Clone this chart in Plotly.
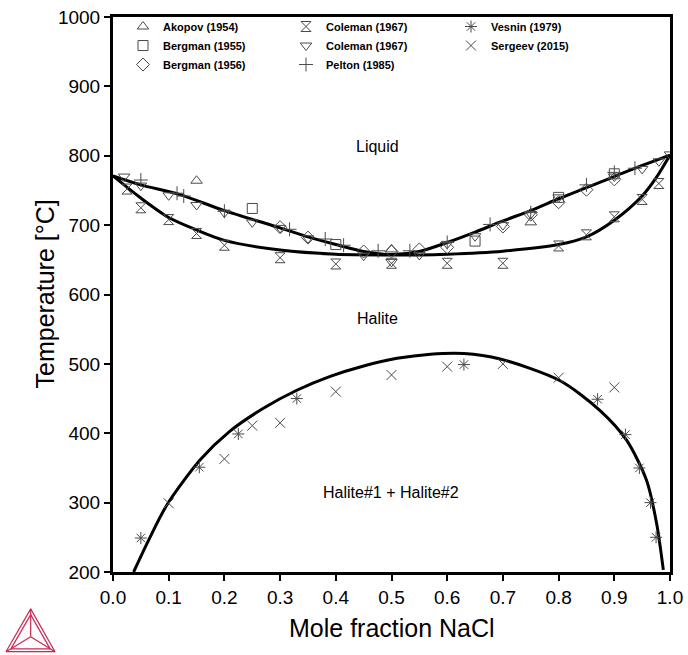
import plotly.graph_objects as go

# --- Phase boundary lines (mole fraction NaCl, temperature in °C) ---
liq_x = [0.0, 0.05, 0.12, 0.2, 0.3, 0.35, 0.4, 0.45, 0.5, 0.55, 0.6, 0.65, 0.7, 0.75, 0.8, 0.85, 0.9, 0.95, 1.0]
liq_t = [771, 758, 744, 721, 696, 683, 672, 662, 657.5, 662, 675, 690, 706, 721, 738, 754, 770, 786, 801]

sol_x = [0.0, 0.05, 0.1, 0.15, 0.2, 0.3, 0.4, 0.5, 0.55, 0.6, 0.7, 0.8, 0.85, 0.9, 0.95, 0.975, 1.0]
sol_t = [771, 739, 711, 693, 678, 664, 658, 657, 657, 658, 662.5, 672, 683, 707, 742, 768, 801]

gap_x = [0.037, 0.064, 0.097, 0.157, 0.21, 0.27, 0.33, 0.39, 0.45, 0.51, 0.57, 0.63, 0.695, 0.802, 0.874, 0.922, 0.958, 0.976, 0.988]
gap_t = [200, 246, 297, 362, 403, 436, 462, 482, 497, 508, 514, 515, 507, 476, 433, 390, 332, 270, 203]

# --- Experimental data ---
akopov_x = [0.15, 0.5, 0.75]
akopov_t = [764, 665, 704]

bergman55_x = [0.25, 0.4, 0.65, 0.8, 0.9]
bergman55_t = [724, 672, 677, 740, 774]

bergman56_x = [0.3, 0.35, 0.45, 0.5, 0.55, 0.6, 0.7, 0.75, 0.8, 0.85, 0.9]
bergman56_t = [697, 682, 662, 662, 665, 668, 698, 715, 733, 751, 766]

coleman_sol_x = [0.025, 0.05, 0.1, 0.15, 0.2, 0.3, 0.4, 0.5, 0.6, 0.7, 0.8, 0.85, 0.9, 0.95, 0.98]
coleman_sol_t = [752, 725, 708, 688, 671, 653, 644, 645, 645, 645, 670, 686, 712, 737, 760]

coleman_liq_x = [0.02, 0.05, 0.1, 0.15, 0.2, 0.25, 0.3, 0.35, 0.45, 0.5, 0.55, 0.6, 0.65, 0.7, 0.75, 0.8, 0.9, 0.95, 0.98, 1.0]
coleman_liq_t = [770, 757, 743, 729, 718, 704, 696, 681, 656, 647, 657, 673, 684, 700, 716, 740, 770, 781, 792, 802]

pelton_x = [0.05, 0.115, 0.127, 0.2, 0.317, 0.381, 0.414, 0.476, 0.533, 0.6, 0.677, 0.75, 0.85, 0.9, 0.937]
pelton_t = [765, 746, 742, 720, 694, 680, 671, 663, 663, 675, 701, 718, 758, 776, 782]

vesnin_x = [0.05, 0.155, 0.225, 0.33, 0.63, 0.87, 0.92, 0.945, 0.965, 0.975]
vesnin_t = [249, 351, 399, 450, 499, 449, 398, 350, 300, 250]

sergeev_x = [0.1, 0.2, 0.25, 0.3, 0.4, 0.5, 0.6, 0.7, 0.8, 0.9]
sergeev_t = [299, 363, 411, 415, 460, 484, 496, 500, 480, 466]

x_ticks = [0.0, 0.1, 0.2, 0.3, 0.4, 0.5, 0.6, 0.7, 0.8, 0.9, 1.0]
y_ticks = [200, 300, 400, 500, 600, 700, 800, 900, 1000]

FONT = "Arial, Liberation Sans, sans-serif"
MARK = "#4a4a4a"

# page geometry (pixels)
W, H = 688, 655
ML, MR, MT, MB = 113, 18, 15, 83
PW, PH = W - ML - MR, H - MT - MB


def px(xp):
    return (xp - ML) / PW


def py(yp):
    return (H - MB - yp) / PH


fig = go.Figure()

for xs, ts in [(liq_x, liq_t), (sol_x, sol_t), (gap_x, gap_t)]:
    fig.add_trace(go.Scatter(x=xs, y=ts, mode="lines",
                             line=dict(color="black", width=3, shape="spline", smoothing=0.8),
                             showlegend=False, hoverinfo="skip"))

series = [
    ("Akopov (1954)", akopov_x, akopov_t, "triangle-up-open", "legend"),
    ("Bergman (1955)", bergman55_x, bergman55_t, "square-open", "legend"),
    ("Bergman (1956)", bergman56_x, bergman56_t, "diamond-open", "legend"),
    ("Coleman (1967)", coleman_sol_x, coleman_sol_t, "hourglass-open", "legend2"),
    ("Coleman (1967)", coleman_liq_x, coleman_liq_t, "triangle-down-open", "legend2"),
    ("Pelton (1985)", pelton_x, pelton_t, "cross-thin-open", "legend2"),
    ("Vesnin (1979)", vesnin_x, vesnin_t, "asterisk-open", "legend3"),
    ("Sergeev (2015)", sergeev_x, sergeev_t, "x-thin-open", "legend3"),
]
for name, xs, ts, sym, leg in series:
    fig.add_trace(go.Scatter(x=xs, y=ts, mode="markers", name=name, legend=leg,
                             marker=dict(symbol=sym, size=10, color=MARK,
                                         line=dict(color=MARK, width=1))))

legend_common = dict(font=dict(family=FONT, size=11, color="black", weight="bold"),
                     bgcolor="rgba(0,0,0,0)", orientation="v", tracegroupgap=0,
                     xanchor="left", yanchor="top", itemwidth=30)
fig.update_layout(
    legend=dict(x=px(123), y=py(10), **legend_common),
    legend2=dict(x=px(286), y=py(10), **legend_common),
    legend3=dict(x=px(451), y=py(10), **legend_common),
)

for text, xv, tv in [("Liquid", 0.474, 813), ("Halite", 0.474, 565),
                     ("Halite#1 + Halite#2", 0.499, 315)]:
    fig.add_annotation(x=xv, y=tv, text=text, showarrow=False,
                       font=dict(family=FONT, size=16, color="black"))

# axis titles
TITLE_FONT = dict(family=FONT, size=25, color="black")
fig.add_annotation(xref="paper", yref="paper", x=0.5, y=py(628), text="Mole fraction NaCl",
                   showarrow=False, font=TITLE_FONT, xanchor="center", yanchor="middle")
fig.add_annotation(xref="paper", yref="paper", x=px(44), y=0.5, text="Temperature [°C]",
                   showarrow=False, font=TITLE_FONT, textangle=-90,
                   xanchor="center", yanchor="middle")

# Thermo-Calc style logo in the lower-left corner
LOGO = "#c8284f"
top, bl, br, ctr = (30.7, 609), (6, 652), (55, 652), (30.7, 637)


def seg(a, b):
    fig.add_shape(type="line", xref="paper", yref="paper",
                  x0=px(a[0]), y0=py(a[1]), x1=px(b[0]), y1=py(b[1]),
                  line=dict(color=LOGO, width=1.2))


gx, gy = (top[0] + bl[0] + br[0]) / 3, (top[1] + bl[1] + br[1]) / 3
inner = [(gx + 0.8 * (p[0] - gx), gy + 0.8 * (p[1] - gy)) for p in (top, bl, br)]
for tri in [(top, bl, br), tuple(inner)]:
    seg(tri[0], tri[1]); seg(tri[1], tri[2]); seg(tri[2], tri[0])
for v in (top, bl, br):
    seg(ctr, v)

axis_common = dict(showline=True, linewidth=3, linecolor="black", mirror=True,
                   ticks="outside", ticklen=6, tickwidth=2, tickcolor="black",
                   showgrid=False, zeroline=False, automargin=False,
                   tickfont=dict(family=FONT, size=19, color="black"))
fig.update_xaxes(range=[0, 1], tickvals=x_ticks, ticktext=[f"{v:.1f}" for v in x_ticks],
                 **axis_common)
fig.update_yaxes(range=[200, 1000], tickvals=y_ticks, **axis_common)

fig.update_layout(width=W, height=H, margin=dict(l=ML, r=MR, t=MT, b=MB),
                  paper_bgcolor="white", plot_bgcolor="white")

fig.write_html("out.html")
